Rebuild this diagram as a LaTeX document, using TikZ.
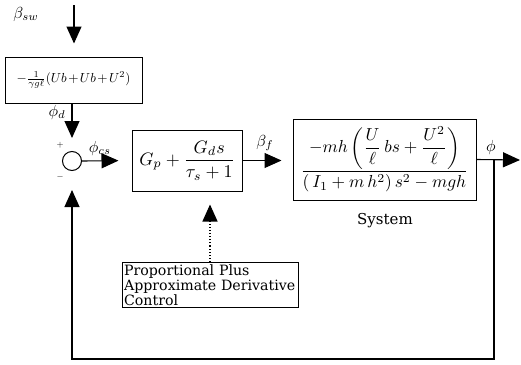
\documentclass[tikz,border=0pt]{standalone}
\usepackage{amsmath}
\usepackage{graphicx}
\usepackage{fontspec}
\setmainfont{DejaVu Serif}
\usetikzlibrary{arrows.meta,positioning,calc}
\newcommand{\mbig}[2]{\scalebox{#1}{$#2$}}

\begin{document}
\begin{tikzpicture}[x=1pt,y=-1pt,
    blk/.style={draw,line width=1pt,inner sep=2pt},
    sig/.style={line width=1.1pt,-{Triangle[length=17pt,width=15pt]}},
    lbl/.style={inner sep=0pt}]
  \useasboundingbox (0,0) rectangle (521,364);
  % blocks
  \node[blk,minimum width=137pt,minimum height=46pt] (gain) at (73.5,80)
    {\mbig{1.31}{\medmuskip=2mu -\frac{1}{\gamma g\ell}(Ub + Ub + U^2)}};
  \node[circle,draw,line width=1pt,minimum size=19pt,inner sep=0pt] (sum) at (72,161) {};
  \node[blk,minimum width=110pt,minimum height=61pt] (ctrl) at (187,160.5)
    {\mbig{1.8}{G_p + \dfrac{G_d s}{\tau_s + 1}}};
  \node[blk,minimum width=183pt,minimum height=81pt] (plant) at (384.5,159.5)
    {\mbig{1.74}{\dfrac{-mh\left(\dfrac{U}{\ell}\,bs+\dfrac{U^2}{\ell}\right)}{(\,I_1+m\,h^2)\,s^2-mgh}}};
  \node[draw,line width=1pt,inner sep=2pt,text width=172pt,align=left,
        font=\fontsize{14.2}{15}\selectfont] (note) at (210,285)
    {Proportional Plus\\Approximate Derivative\\Control};
  \coordinate (swin) at (74,5);
  \coordinate (br) at (494,160);
  \coordinate (out) at (520,160);
  % signals
  \draw[sig,shorten >=13pt] (swin) -- (swin |- gain.north);
  \draw[sig,shorten >=13pt] (sum |- gain.south) -- (sum.north);
  \draw[sig,shorten >=13pt] (sum.east) -- (ctrl.west);
  \draw[sig,shorten >=11pt] (ctrl.east) -- (ctrl.east -| plant.west);
  \draw[sig] (plant.east) -- (out);
  \draw[sig,shorten >=19pt] (br) -- (br |- 0,359) -| (sum.south);
  \draw[sig,dotted,shorten >=13pt] (note.north) -- (note.north |- ctrl.south);
  % labels
  \node[lbl] (bsw) at (26,14) {\mbig{1.6}{\beta_{sw}}};
  \node[lbl] (phid) at (57,112) {\mbig{1.6}{\phi_d}};
  \node[lbl] (phics) at (100,148) {\mbig{1.6}{\phi_{cs}}};
  \node[lbl] (betaf) at (265,143) {\mbig{1.6}{\beta_f}};
  \node[lbl] (phiout) at (491,147) {\mbig{1.6}{\phi}};
  \node[lbl] (plus) at (60,145) {\mbig{0.9}{+}};
  \node[lbl] (minus) at (60,177) {\mbig{0.9}{-}};
  \node[lbl,font=\fontsize{15}{17}\selectfont] (sys) at (385,221) {System};
\end{tikzpicture}
\end{document}
